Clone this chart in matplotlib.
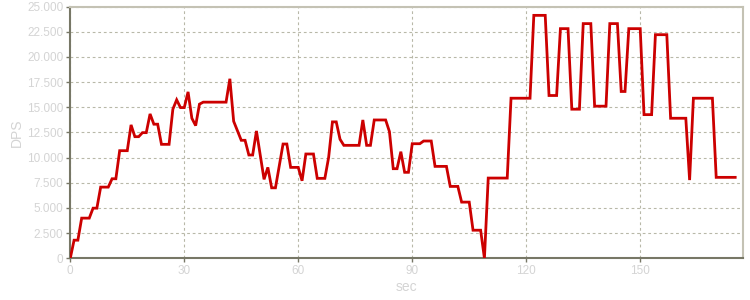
import matplotlib
matplotlib.use("Agg")
import matplotlib.pyplot as plt
from matplotlib.ticker import FuncFormatter, MultipleLocator

# Per-second DPS samples (t = 0..175 s)
dps = [
    0, 1800, 1800, 3990, 3990, 3990, 4980, 4980, 7070, 7070,          # 0-9
    7070, 7900, 7900, 10690, 10690, 10690, 13250, 12080, 12080, 12480,  # 10-19
    12480, 14340, 13320, 13320, 11320, 11320, 11320, 14810, 15740, 14970,  # 20-29
    14970, 16530, 13910, 13180, 15310, 15510, 15510, 15510, 15510, 15510,  # 30-39
    15510, 15510, 17830, 13610, 12650, 11720, 11720, 10260, 10260, 12650,  # 40-49
    10250, 7840, 9030, 7000, 7000, 9170, 11350, 11350, 9030, 9030,       # 50-59
    9030, 7700, 10360, 10360, 10360, 7940, 7940, 7940, 10030, 13550,     # 60-69
    13550, 11820, 11220, 11220, 11220, 11220, 11220, 13740, 11220, 11220,  # 70-79
    13740, 13740, 13740, 13740, 12580, 8900, 8900, 10590, 8540, 8540,    # 80-89
    11380, 11380, 11380, 11650, 11650, 11650, 9130, 9130, 9130, 9130,    # 90-99
    7140, 7140, 7140, 5580, 5580, 5580, 2790, 2790, 2790, 0,            # 100-109
    7970, 7970, 7970, 7970, 7970, 7970, 15900, 15900, 15900, 15900,      # 110-119
    15900, 15900, 24130, 24130, 24130, 24130, 16170, 16170, 16170, 22810,  # 120-129
    22810, 22810, 14810, 14810, 14810, 23310, 23310, 23310, 15110, 15110,  # 130-139
    15110, 15110, 23310, 23310, 23310, 16570, 16570, 22810, 22810, 22810,  # 140-149
    22810, 14270, 14270, 14270, 22210, 22210, 22210, 22210, 13910, 13910,  # 150-159
    13910, 13910, 13910, 7770, 15900, 15900, 15900, 15900, 15900, 15900,  # 160-169
    8040, 8040, 8040, 8040, 8040, 8040,                                 # 170-175
]
seconds = list(range(len(dps)))

x_ticks = [0, 30, 60, 90, 120, 150]
x_label = "sec"
y_label = "DPS"

plt.rcParams['font.family'] = ['Liberation Sans', 'DejaVu Sans']

fig = plt.figure(figsize=(7.5, 3.0), dpi=100)
ax = fig.add_axes([0.0937, 0.139, 0.8967, 0.839])

ax.plot(seconds, dps, color='#cc0000', lw=2.0, solid_joinstyle='miter', zorder=3)

ax.set_xlim(0, 177)
ax.set_ylim(0, 25000)
ax.set_xticks(x_ticks)
ax.yaxis.set_major_locator(MultipleLocator(2500))
ax.yaxis.set_major_formatter(FuncFormatter(lambda v, p: f"{int(v):,}".replace(",", ".")))

label_color = '#d4d4d4'
ax.tick_params(axis='both', colors='#777766', labelcolor=label_color,
               labelsize=8.5, length=3, width=1, direction='out', pad=2)

ax.grid(True, color='#b8b8a8', linestyle=(0, (2.5, 2.5)), linewidth=0.8)
ax.set_axisbelow(True)

for side in ['left', 'bottom']:
    ax.spines[side].set_color('#777766')
    ax.spines[side].set_linewidth(1.5)
for side in ['top', 'right']:
    ax.spines[side].set_color('#c4c2b4')
    ax.spines[side].set_linewidth(1.5)

ax.set_xlabel(x_label, color=label_color, fontsize=10, labelpad=2)
ax.set_ylabel(y_label, color=label_color, fontsize=10, labelpad=2)

fig.savefig("out.png", dpi=100)
